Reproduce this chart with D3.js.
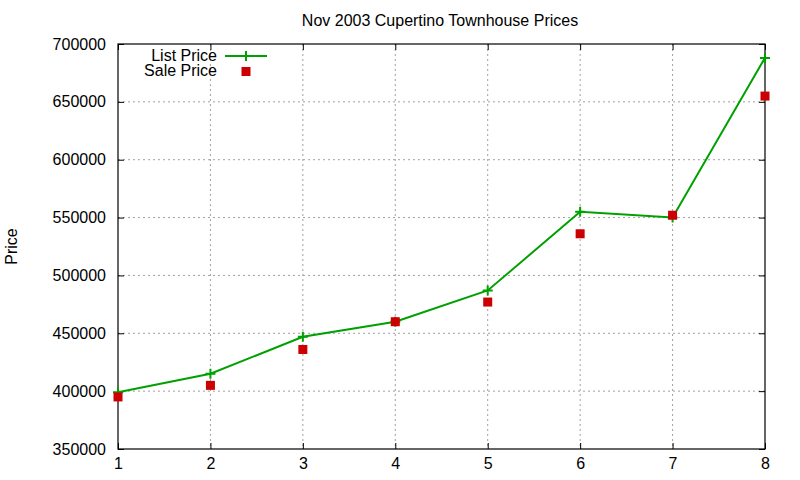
<!DOCTYPE html>
<html lang="en">
<head>
<meta charset="UTF-8">
<script src="https://d3js.org/d3.v7.min.js"></script>
<style>
  body { margin: 0; background: #fff; }
  text { font-family: "Liberation Sans", Arial, sans-serif; fill: #000; }
</style>
</head>
<body>
<div class="chart"></div>
<script>
// data
var xValues = [1, 2, 3, 4, 5, 6, 7, 8]
var listPrice = [399000, 415000, 447000, 460000, 487000, 555000, 550000, 688000]
var salePrice = [395000, 405000, 436000, 460000, 477000, 536000, 552000, 655000]
var yTicks = [350000, 400000, 450000, 500000, 550000, 600000, 650000, 700000]
var title = "Nov 2003 Cupertino Townhouse Prices"

var width = 800, height = 480
var margin = { top: 44, right: 35, bottom: 31, left: 118 }
var w = width - margin.left - margin.right
var h = height - margin.top - margin.bottom

var svg = d3.select(".chart").append("svg")
    .attr("width", width)
    .attr("height", height)

var g = svg.append("g")
    .attr("transform", "translate(" + margin.left + "," + margin.top + ")")

var x = d3.scaleLinear().domain([1, 8]).range([0, w])
var y = d3.scaleLinear().domain([350000, 700000]).range([h, 0])

// grid
g.append("g").selectAll("line")
    .data(xValues.slice(1, -1))
    .enter().append("line")
    .attr("x1", d => x(d)).attr("x2", d => x(d))
    .attr("y1", 0).attr("y2", h)
    .attr("stroke", "#a0a0a0").attr("stroke-dasharray", "2,3")
g.append("g").selectAll("line")
    .data(yTicks.slice(1, -1))
    .enter().append("line")
    .attr("x1", 0).attr("x2", w)
    .attr("y1", d => y(d)).attr("y2", d => y(d))
    .attr("stroke", "#a0a0a0").attr("stroke-dasharray", "2,3")

// axes, ticks pointing inward on all sides
function styleAxis(sel) {
    sel.select(".domain").remove()
    sel.selectAll("text").style("font-size", "16px")
        .style("font-family", "'Liberation Sans', Arial, sans-serif")
    sel.selectAll("line").attr("stroke", "#000")
}
g.append("g").attr("transform", "translate(0," + h + ")")
    .call(d3.axisBottom(x).tickValues(xValues).tickFormat(d3.format("d")).tickSizeInner(-6).tickPadding(9))
    .call(styleAxis)
g.append("g")
    .call(d3.axisTop(x).tickValues(xValues).tickFormat("").tickSizeInner(-6))
    .call(styleAxis)
g.append("g")
    .call(d3.axisLeft(y).tickValues(yTicks).tickFormat(d3.format("d")).tickSizeInner(-6).tickPadding(12))
    .call(styleAxis)
g.append("g").attr("transform", "translate(" + w + ",0)")
    .call(d3.axisRight(y).tickValues(yTicks).tickFormat("").tickSizeInner(-6))
    .call(styleAxis)

g.append("rect")
    .attr("width", w).attr("height", h)
    .attr("fill", "none").attr("stroke", "#000").attr("stroke-width", 1.2)

// list price line
var line = d3.line()
    .x((d, i) => x(xValues[i]))
    .y(d => y(d))
g.append("path")
    .datum(listPrice)
    .attr("d", line)
    .attr("fill", "none")
    .attr("stroke", "#00a000")
    .attr("stroke-width", 2)

g.selectAll(".pt")
    .data(listPrice)
    .enter().append("path")
    .attr("d", "M-5,0H5M0,-5V5")
    .attr("transform", (d, i) => "translate(" + x(xValues[i]) + "," + y(d) + ")")
    .attr("stroke", "#00a000").attr("stroke-width", 2)

// sale price squares
g.selectAll(".sq")
    .data(salePrice)
    .enter().append("rect")
    .attr("x", (d, i) => x(xValues[i]) - 4.5)
    .attr("y", d => y(d) - 4.5)
    .attr("width", 9).attr("height", 9)
    .attr("fill", "#cc0000")

// title and y label
svg.append("text")
    .attr("x", 440).attr("y", 26)
    .attr("text-anchor", "middle")
    .style("font-size", "16px")
    .text(title)
svg.append("text")
    .attr("transform", "translate(17," + (margin.top + h / 2) + ") rotate(-90)")
    .attr("text-anchor", "middle")
    .style("font-size", "16px")
    .text("Price")

// legend
var legend = svg.append("g").attr("transform", "translate(217,56)")
legend.append("text").attr("x", 0).attr("y", 5).attr("text-anchor", "end")
    .style("font-size", "16px").text("List Price")
legend.append("line").attr("x1", 8).attr("x2", 50).attr("y1", 0).attr("y2", 0)
    .attr("stroke", "#00a000").attr("stroke-width", 2)
legend.append("path").attr("d", "M-5,0H5M0,-5V5")
    .attr("transform", "translate(29,0)")
    .attr("stroke", "#00a000").attr("stroke-width", 2)
legend.append("text").attr("x", 0).attr("y", 20).attr("text-anchor", "end")
    .style("font-size", "16px").text("Sale Price")
legend.append("rect").attr("x", 24.5).attr("y", 11).attr("width", 9).attr("height", 9)
    .attr("fill", "#cc0000")
</script>
</body>
</html>
